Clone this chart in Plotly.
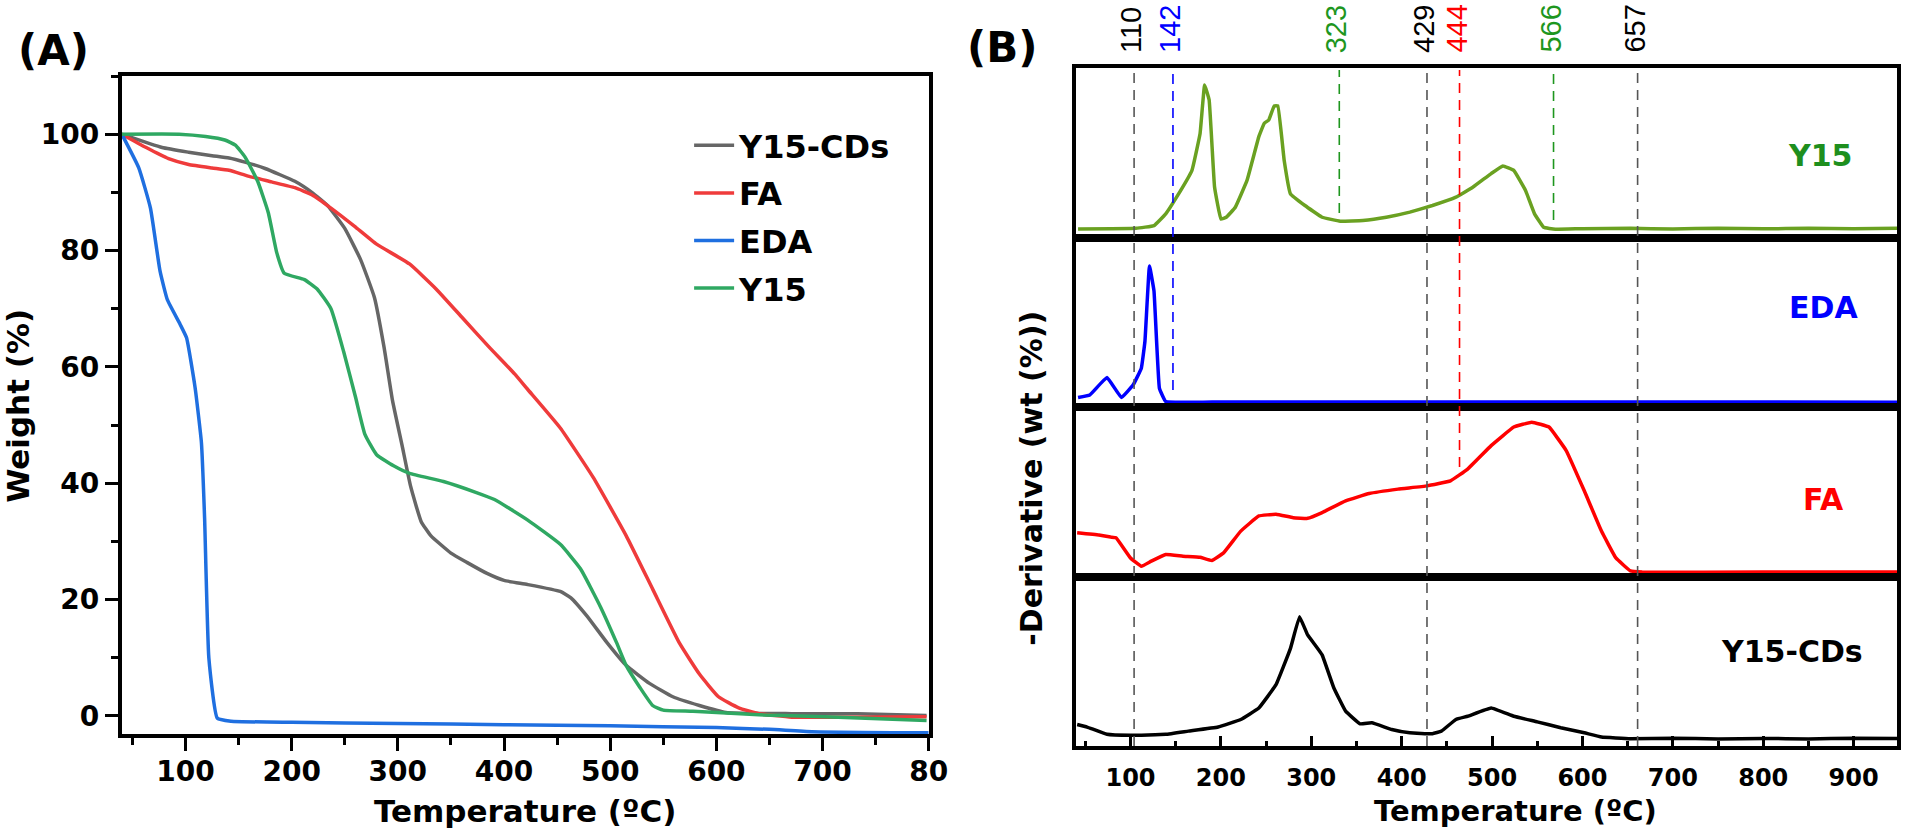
import plotly.graph_objects as go

W, H = 1920, 833

# ---------- (A) TGA : weight (%) vs temperature ----------
cds_temp = [40, 78, 103, 125, 141, 156, 175, 203, 219, 234, 250, 265, 278, 287, 295, 304, 312, 322,
            331, 350, 365, 384, 400, 422, 453, 463, 478, 497, 515, 537, 559, 584, 609, 671, 733, 798]
cds_wt = [100, 97.7, 96.9, 96.3, 95.9, 95.2, 94.1, 91.9, 90, 87.7, 83.8, 78.4, 71.9, 63.4, 54.2, 46.5,
          39.5, 33.4, 31, 28, 26.4, 24.5, 23.3, 22.6, 21.4, 20.3, 17.2, 12.6, 8.7, 5.6, 3.3, 1.8, 0.6,
          0.4, 0.4, 0.1]

fa_temp = [40, 63, 84, 103, 125, 141, 159, 181, 203, 219, 237, 259, 280, 311, 336, 361, 386, 410,
           422, 453, 484, 515, 540, 565, 584, 602, 621, 640, 671, 733, 798]
fa_wt = [100, 97.7, 95.8, 94.8, 94.2, 93.8, 92.8, 91.8, 90.8, 89.6, 87.3, 84.2, 81.1, 77.7, 73.4,
         68.4, 63.4, 58.8, 56.2, 49.5, 41, 31, 21.8, 12.6, 7.2, 3.3, 1.4, 0.4, -0.2, -0.2, -0.15]

eda_temp = [40, 56, 67, 76, 83, 95, 101, 109, 115, 118, 122, 130, 143, 200, 300, 400, 500, 600,
            650, 690, 800]
eda_wt = [100, 94.2, 87.3, 76.5, 71.5, 67.3, 65, 56.5, 47, 34, 10, -0.4, -0.9, -1.1, -1.3, -1.5,
          -1.7, -2.0, -2.3, -2.7, -2.9]

y15_temp = [40, 94, 119, 137, 147, 156, 168, 178, 186, 193, 212, 224, 237, 249, 260, 269, 280, 296,
            311, 343, 374, 391, 422, 453, 472, 491, 506, 515, 528, 540, 550, 578, 640, 702, 798]
y15_wt = [100, 100, 99.6, 99, 98.1, 96.1, 91.9, 86.5, 79.6, 76.1, 75, 73.4, 70, 62.6, 54.9, 48.4,
          44.9, 43, 41.7, 40.3, 38.4, 37.2, 33.7, 29.5, 25.3, 18.7, 12.6, 8.7, 4.9, 1.8, 1.0, 0.8,
          0.2, -0.15, -0.8]

tga_names = ["Y15-CDs", "FA", "EDA", "Y15"]

# ---------- (B) DTG : -derivative (arb., % of each strip) ----------
dtg_y15_temp = [42, 106, 126, 139, 151, 168, 177, 182, 187, 193, 200, 206, 216, 229, 242, 248, 253,
                259, 263, 270, 277, 293, 312, 332, 357, 383, 409, 434, 460, 479, 499, 512, 524, 537,
                547, 557, 570, 600, 653, 700, 750, 800, 850, 900, 949]
dtg_y15 = [5.3, 5.7, 7.3, 14.2, 24, 39.8, 61.5, 90, 81.3, 30, 11.2, 12.2, 18.1, 34, 59.6, 67.5, 69.4,
           77.7, 77.7, 45.8, 26, 19.1, 12.2, 9.9, 10.3, 12.2, 15.2, 19.1, 24, 30, 37.9, 42.4, 39.8,
           28, 14.2, 6.3, 5.1, 5.5, 5.7, 5.3, 5.8, 5.4, 5.7, 5.4, 5.8]

dtg_eda_temp = [42, 55, 74, 90, 103, 112, 116, 121, 126, 132, 139, 200, 400, 600, 800, 949]
dtg_eda = [5.6, 7.1, 17.5, 5.6, 13.1, 23, 38.9, 83.5, 68.7, 11.1, 3.2, 3.0, 3.0, 2.9, 2.9, 2.8]

dtg_fa_temp = [41, 65, 78, 84, 100, 112, 123, 139, 158, 177, 190, 203, 222, 242, 261, 280, 296, 312,
               338, 364, 396, 428, 454, 473, 499, 524, 544, 563, 582, 602, 621, 637, 653, 666, 800, 949]
dtg_fa = [26, 24.7, 23.5, 23.1, 11.2, 6.3, 9.3, 13.2, 12.2, 11.6, 9.7, 14.2, 27, 35.9, 36.9, 34.9,
          34.5, 37.9, 44.8, 49.1, 51.7, 53.6, 56.6, 63.5, 77.3, 88.2, 91.1, 88.2, 74.4, 50.7, 27,
          11.2, 3.6, 2.9, 2.9, 2.9]

dtg_cds_temp = [41, 52, 74, 100, 139, 164, 197, 222, 242, 261, 277, 287, 296, 305, 312, 325, 338, 354,
                367, 389, 409, 434, 444, 460, 473, 499, 524, 550, 576, 602, 621, 653, 700, 750, 800,
                850, 900, 949]
dtg_cds = [12.7, 11.2, 6.9, 6.3, 6.9, 8.8, 11.2, 15.7, 22.5, 36.3, 57.8, 76.5, 65.7, 59.2, 53.9, 34.3,
           20.6, 13.1, 13.7, 9.8, 7.8, 7.3, 8.8, 15.7, 17.6, 22.5, 17.6, 14.3, 10.8, 7.8, 5.3, 4.3,
           4.6, 4.2, 4.5, 4.2, 4.6, 4.4]

strip_names = ["Y15", "EDA", "FA", "Y15-CDs"]

# marked temperatures (labels) and where the dashed guides sit
peak_labels = ["110", "142", "323", "429", "444", "566", "657"]
peak_pos = [104, 147, 331, 428, 464, 568, 661]
peak_colors = ["black", "blue", "green", "black", "red", "green", "black"]


# ---------- helpers ----------
def px(x):
    return x / W


def py(y):
    return 1 - y / H


BOLD = dict(family="DejaVu Sans", color="black", weight="bold")
colA = {"Y15-CDs": "#666666", "FA": "#ef3b3b", "EDA": "#1f6fe0", "Y15": "#2fa862"}
colB = {"Y15": "#6aa121", "EDA": "#0000ff", "FA": "#ff0000", "Y15-CDs": "#000000"}
txtB = {"Y15": "#1e8f1e", "EDA": "#0000ff", "FA": "#ff0000", "Y15-CDs": "#000000"}
guide_col = {"black": "#555555", "blue": "#0000ff", "green": "#1e961e", "red": "#ff0000"}
label_col = {"black": "#000000", "blue": "#0000ff", "green": "#1e961e", "red": "#ff0000"}

fig = go.Figure()

# === (A) TGA ===
for name, t, w in zip(tga_names, [cds_temp, fa_temp, eda_temp, y15_temp],
                      [cds_wt, fa_wt, eda_wt, y15_wt]):
    fig.add_trace(go.Scatter(
        x=t, y=w, mode="lines", name=name, legendgroup=name,
        line=dict(color=colA[name], width=3.5, shape="spline", smoothing=0.4),
        xaxis="x", yaxis="y"))

# === (B) DTG strips ===
strips = [(dtg_y15_temp, dtg_y15), (dtg_eda_temp, dtg_eda), (dtg_fa_temp, dtg_fa),
          (dtg_cds_temp, dtg_cds)]
for i, (name, (t, v)) in enumerate(zip(strip_names, strips)):
    fig.add_trace(go.Scatter(
        x=t, y=v, mode="lines", showlegend=False,
        line=dict(color=colB[name], width=3.5, shape="spline", smoothing=0.25),
        xaxis="x%d" % (i + 2), yaxis="y%d" % (i + 2)))

# strip geometry (pixels)
strip_edges = [68, 238, 407, 577, 746]
bx0, bx1 = 1087, 1916

layout = dict(
    width=W, height=H, margin=dict(l=0, r=0, t=0, b=0),
    paper_bgcolor="white", plot_bgcolor="white", showlegend=True,
    legend=dict(x=px(696), y=py(118), xanchor="left", yanchor="top",
                font=dict(size=32, **BOLD), bgcolor="rgba(0,0,0,0)",
                tracegroupgap=3, itemwidth=40),
)

axis_common = dict(showgrid=False, zeroline=False, showline=True, linecolor="black", mirror=True)

layout["xaxis"] = dict(
    axis_common, domain=[px(123), px(938)], range=[40, 800], anchor="y", linewidth=4,
    tickvals=[100, 200, 300, 400, 500, 600, 700, 800],
    ticktext=["100", "200", "300", "400", "500", "600", "700", "80"],
    ticks="outside", ticklen=13, tickwidth=3, tickcolor="black", ticklabelstandoff=-4,
    tickfont=dict(size=28, **BOLD),
    minor=dict(tickvals=[50, 150, 250, 350, 450, 550, 650, 750], ticks="outside",
               ticklen=7, tickwidth=3, tickcolor="black"))
layout["yaxis"] = dict(
    axis_common, domain=[py(734), py(76)], range=[-3.1, 110], anchor="x", linewidth=4,
    tickvals=[0, 20, 40, 60, 80, 100], ticks="outside", ticklen=13, tickwidth=3,
    tickcolor="black", tickfont=dict(size=28, **BOLD),
    minor=dict(tickvals=[10, 30, 50, 70, 90, 110], ticks="outside", ticklen=7, tickwidth=3,
               tickcolor="black"))

for i in range(4):
    n = i + 2
    bottom = i == 3
    xa = dict(axis_common, domain=[px(bx0), px(bx1)], range=[40, 948], anchor="y%d" % n,
              linewidth=3.5)
    if bottom:
        xa.update(tickvals=[100, 200, 300, 400, 500, 600, 700, 800, 900], ticks="inside",
                  ticklen=10, tickwidth=3, tickcolor="black", ticklabelstandoff=7,
                  tickfont=dict(size=24, **BOLD),
                  minor=dict(tickvals=[50, 150, 250, 350, 450, 550, 650, 750, 850],
                             ticks="inside", ticklen=5, tickwidth=3, tickcolor="black"))
    else:
        xa.update(showticklabels=False, ticks="")
    layout["xaxis%d" % n] = xa
    layout["yaxis%d" % n] = dict(
        axis_common, domain=[py(strip_edges[i + 1]), py(strip_edges[i])], range=[0, 100],
        anchor="x%d" % n, linewidth=3.5, showticklabels=False, ticks="")

fig.update_layout(**layout)

# dashed guide lines: where each one stops (pixel row)
guide_end = [746, 390, 213, 746, 467, 220, 746]
for pos, c, end in zip(peak_pos, peak_colors, guide_end):
    fig.add_shape(type="line", xref="x5", yref="paper", x0=pos, x1=pos,
                  y0=py(end), y1=py(70),
                  line=dict(color=guide_col[c], width=1.6, dash="10px,7px"))

annos = []
for lab, pos, c in zip(peak_labels, peak_pos, peak_colors):
    annos.append(dict(text=lab, x=pos, y=py(55), xref="x5", yref="paper", xanchor="center",
                      yanchor="bottom", textangle=-90, showarrow=False, xshift=-3,
                      font=dict(family="Liberation Sans", size=29, color=label_col[c])))

strip_label_pos = [(1838, 155), (1842, 307), (1842, 499), (1810, 651)]
for name, (lx, ly) in zip(strip_names, strip_label_pos):
    annos.append(dict(text=name, x=px(lx), y=py(ly), xref="paper", yref="paper",
                      xanchor="center", yanchor="middle", showarrow=False,
                      font=dict(size=30, family="DejaVu Sans", weight="bold", color=txtB[name])))

annos += [
    dict(text="(A)", x=px(54), y=py(51), font=dict(size=42, **BOLD)),
    dict(text="(B)", x=px(1012), y=py(48), font=dict(size=42, **BOLD)),
    dict(text="Temperature (ºC)", x=px(530), y=py(811), font=dict(size=31, **BOLD)),
    dict(text="Weight (%)", x=px(18), y=py(406), textangle=-90, font=dict(size=31, **BOLD)),
    dict(text="Temperature (ºC)", x=px(1531), y=py(811), font=dict(size=29, **BOLD)),
    dict(text="-Derivative (wt (%))", x=px(1041), y=py(478), textangle=-90,
         font=dict(size=30, **BOLD)),
]
for a in annos[-6:]:
    a.update(xref="paper", yref="paper", showarrow=False, xanchor="center", yanchor="middle")

fig.update_layout(annotations=annos)

fig.write_html("out.html", config={"displayModeBar": False},
               post_script="document.body.style.margin='0';")
